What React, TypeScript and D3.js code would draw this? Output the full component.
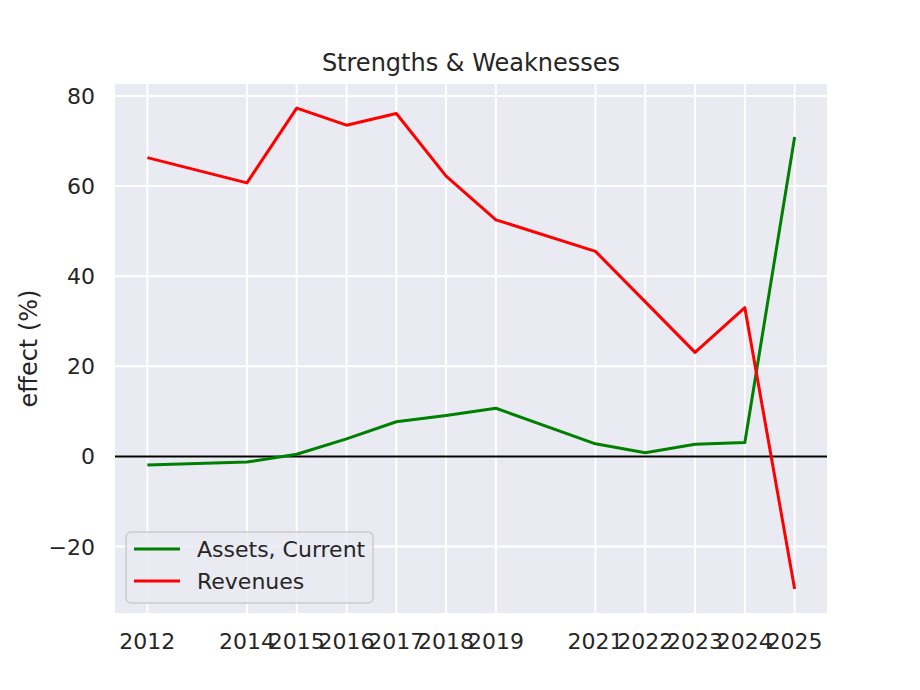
import * as d3 from 'd3'

const years = [2012, 2014, 2015, 2016, 2017, 2018, 2019, 2021, 2022, 2023, 2024, 2025]
const assetsCurrent = [-1.9, -1.25, 0.5, 3.9, 7.7, 9.1, 10.7, 2.8, 0.8, 2.7, 3.1, 70.9]
const revenues = [66.3, 60.7, 77.3, 73.5, 76.1, 62.2, 52.5, 45.5, 34.3, 23.1, 33.0, -29.4]

const seriesList = [
  { name: 'Assets, Current', values: assetsCurrent, color: 'green' },
  { name: 'Revenues', values: revenues, color: 'red' },
]

const W = 920
const H = 690
const margin = { left: 115, right: 93, top: 84, bottom: 77 }
const font = '"DejaVu Sans", sans-serif'
const ink = '#262626'

export default function App() {
  const x0 = d3.min(years)!
  const x1 = d3.max(years)!
  const xPad = (x1 - x0) * 0.05
  const all = [...assetsCurrent, ...revenues]
  const [y0, y1] = d3.extent(all) as [number, number]
  const yPad = (y1 - y0) * 0.05

  const x = d3
    .scaleLinear()
    .domain([x0 - xPad, x1 + xPad])
    .range([margin.left, W - margin.right])
  const y = d3
    .scaleLinear()
    .domain([y0 - yPad, y1 + yPad])
    .range([H - margin.bottom, margin.top])

  const line = d3
    .line<number>()
    .x((_, i) => x(years[i]))
    .y(d => y(d))

  const yTicks = y.ticks(6)
  const fmt = d3.format('d')
  const plotW = W - margin.left - margin.right
  const plotH = H - margin.top - margin.bottom

  return (
    <svg
      width={W}
      height={H}
      style={{ position: 'absolute', left: 0, top: 0, background: '#fff' }}
      fontFamily={font}
    >
      <rect x={margin.left} y={margin.top} width={plotW} height={plotH} fill="#EAEAF2" />
      <clipPath id="plot">
        <rect x={margin.left} y={margin.top} width={plotW} height={plotH} />
      </clipPath>

      {/* grid */}
      <g stroke="#fff" strokeWidth={2}>
        {years.map(t => (
          <line key={'gx' + t} x1={x(t)} x2={x(t)} y1={margin.top} y2={H - margin.bottom} />
        ))}
        {yTicks.map(t => (
          <line key={'gy' + t} x1={margin.left} x2={W - margin.right} y1={y(t)} y2={y(t)} />
        ))}
      </g>

      <line
        x1={margin.left}
        x2={W - margin.right}
        y1={y(0)}
        y2={y(0)}
        stroke="#000"
        strokeWidth={2}
      />

      <g clipPath="url(#plot)">
        {seriesList.map(s => (
          <path
            key={s.name}
            d={line(s.values) ?? ''}
            fill="none"
            stroke={s.color}
            strokeWidth={3}
            strokeLinejoin="round"
          />
        ))}
      </g>

      {/* y tick labels */}
      <g fill={ink} fontSize={22} textAnchor="end">
        {yTicks.map(t => (
          <text key={'ty' + t} x={margin.left - 20} y={y(t) + 8}>
            {fmt(t)}
          </text>
        ))}
      </g>

      {/* x tick labels */}
      <g fill={ink} fontSize={22} textAnchor="middle">
        {years.map(t => (
          <text key={'tx' + t} x={x(t)} y={H - margin.bottom + 36}>
            {t}
          </text>
        ))}
      </g>

      <text
        transform={`translate(37, ${margin.top + plotH / 2}) rotate(-90)`}
        textAnchor="middle"
        fill={ink}
        fontSize={24}
      >
        effect (%)
      </text>

      <text
        x={margin.left + plotW / 2}
        y={71}
        textAnchor="middle"
        fill={ink}
        fontSize={24}
      >
        Strengths &amp; Weaknesses
      </text>

      {/* legend */}
      <g>
        <rect
          x={126}
          y={532}
          width={247}
          height={71}
          rx={5}
          fill="#EAEAF2"
          fillOpacity={0.8}
          stroke="#CCCCCC"
          strokeWidth={1.5}
        />
        {seriesList.map((s, i) => (
          <g key={'lg' + s.name} transform={`translate(0, ${549 + i * 32})`}>
            <line x1={134} x2={180} y1={0} y2={0} stroke={s.color} strokeWidth={3} />
            <text x={197} y={8} fill={ink} fontSize={22}>
              {s.name}
            </text>
          </g>
        ))}
      </g>
    </svg>
  )
}
